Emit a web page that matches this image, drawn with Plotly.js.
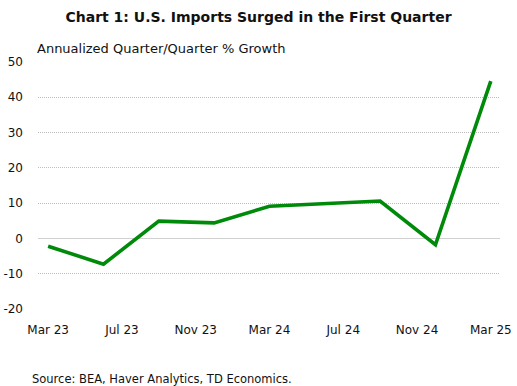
<!DOCTYPE html>
<html><head><meta charset="utf-8">
<script src="https://cdn.plot.ly/plotly-3.0.1.min.js"></script>
<style>html,body{margin:0;padding:0;background:#fff;}#chart{width:517px;height:386px;}</style>
</head><body><div id="chart"></div>
<script>
const quarters = ["Mar 23","Jun 23","Sep 23","Dec 23","Mar 24","Jun 24","Sep 24","Dec 24","Mar 25"];
const monthIndex = [0,3,6,9,12,15,18,21,24];
const importsGrowth = [-2.2,-7.3,4.9,4.4,9.1,9.8,10.6,-1.8,44.6];
const tickPositions = [0,4,8,12,16,20,24];
const tickLabels = ["Mar 23","Jul 23","Nov 23","Mar 24","Jul 24","Nov 24","Mar 25"];
const yTicks = [-20,-10,0,10,20,30,40,50];
const yTickLabels = ["-20","-10","0","10","20","30","40","50"];

const font = "DejaVu Sans, sans-serif";
Plotly.newPlot("chart", [{
  x: monthIndex, y: importsGrowth, text: quarters, type: "scatter", mode: "lines",
  line: {color: "#008a0a", width: 3.6}, hoverinfo: "text+y"
}], {
  width: 517, height: 386,
  margin: {l: 38, r: 17, t: 62, b: 77},
  paper_bgcolor: "#fff", plot_bgcolor: "#fff",
  showlegend: false,
  title: {text: "<b>Chart 1: U.S. Imports Surged in the First Quarter</b>", x: 0.5, xanchor: "center", y: 0.955, yanchor: "middle",
          font: {family: "DejaVu Sans, sans-serif", size: 14, color: "#111"}},
  xaxis: {range: [-0.55, 24.5], tickvals: tickPositions, ticktext: tickLabels, showgrid: false, zeroline: false,
          showline: false, ticks: "", ticklabelstandoff: 12, tickfont: {family: font, size: 12, color: "#111"}, fixedrange: true},
  yaxis: {range: [-20, 50], tickvals: yTicks, ticktext: yTickLabels, showgrid: true, gridcolor: "#bdbdbd", griddash: "1px,1px", gridwidth: 1,
          zeroline: true, zerolinecolor: "#d0d0d0", zerolinewidth: 1.8, showline: false, ticks: "", ticklabelstandoff: 14,
          tickfont: {family: font, size: 12, color: "#111"}, fixedrange: true},
  annotations: [
    {text: "Annualized Quarter/Quarter % Growth", xref: "paper", yref: "paper", x: 0, y: 1, xanchor: "left", yanchor: "bottom",
     yshift: 4, xshift: -3, showarrow: false, font: {family: font, size: 13, color: "#111"}},
    {text: "Source: BEA, Haver Analytics, TD Economics.", xref: "paper", yref: "paper", x: 0, y: 0, xanchor: "left", yanchor: "middle",
     yshift: -70, xshift: -8, showarrow: false, font: {family: font, size: 11.5, color: "#111"}}
  ]
}, {displayModeBar: false, staticPlot: true});
</script></body></html>
